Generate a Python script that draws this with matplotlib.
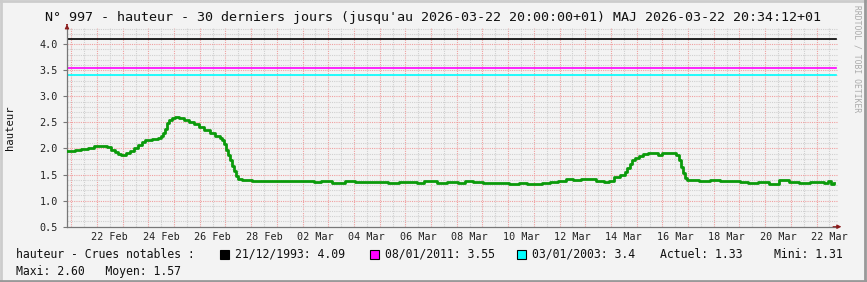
import matplotlib
matplotlib.use("Agg")
import matplotlib.pyplot as plt
from datetime import datetime, timedelta

# time window: 30 days ending 2026-03-22 20:00
start = datetime(2026, 2, 20, 20, 0)
end = datetime(2026, 3, 22, 20, 0)

# water level readings (day offset from start, value in m)
days = [0.0, 0.3, 0.55, 0.8, 1.05, 1.4, 1.55, 1.7, 1.85, 2.0,
        2.1, 2.3, 2.45, 2.6, 2.75, 2.9, 3.05, 3.3, 3.55, 3.65,
        3.72, 3.8, 3.88, 3.98, 4.08, 4.2, 4.35, 4.55, 4.75, 4.95,
        5.15, 5.35, 5.55, 5.75, 5.95, 6.02, 6.1, 6.18, 6.26, 6.34,
        6.42, 6.5, 6.58, 6.66, 6.8, 7.2, 7.8, 8.3, 8.7, 9.2,
        9.6, 9.9, 10.3, 10.8, 11.2, 11.6, 12.0, 12.5, 12.9, 13.3,
        13.6, 13.9, 14.4, 14.8, 15.2, 15.5, 15.8, 16.2, 16.7, 17.2,
        17.6, 17.9, 18.2, 18.5, 18.8, 19.1, 19.25, 19.4, 19.7, 20.0,
        20.3, 20.6, 20.9, 21.1, 21.3, 21.5, 21.7, 21.8, 21.9, 22.0,
        22.1, 22.25, 22.4, 22.6, 22.85, 23.0, 23.15, 23.4, 23.6, 23.7,
        23.8, 23.88, 23.96, 24.04, 24.12, 24.25, 24.6, 25.0, 25.4, 25.8,
        26.2, 26.5, 26.9, 27.3, 27.7, 28.1, 28.5, 28.9, 29.2, 29.45,
        29.6, 29.72, 29.85]
values = [1.96, 1.97, 1.99, 2.01, 2.04, 2.05, 2.03, 1.98, 1.93, 1.89,
          1.88, 1.92, 1.96, 2.00, 2.06, 2.12, 2.16, 2.18, 2.20, 2.23,
          2.30, 2.38, 2.48, 2.55, 2.58, 2.60, 2.58, 2.55, 2.51, 2.46,
          2.41, 2.35, 2.29, 2.24, 2.20, 2.17, 2.08, 1.98, 1.87, 1.77,
          1.66, 1.56, 1.48, 1.42, 1.39, 1.38, 1.38, 1.37, 1.38, 1.37,
          1.36, 1.37, 1.34, 1.37, 1.36, 1.35, 1.36, 1.34, 1.35, 1.36,
          1.33, 1.37, 1.34, 1.36, 1.33, 1.38, 1.36, 1.34, 1.33, 1.32,
          1.33, 1.32, 1.31, 1.33, 1.36, 1.38, 1.37, 1.41, 1.40, 1.42,
          1.41, 1.37, 1.35, 1.37, 1.45, 1.49, 1.55, 1.62, 1.70, 1.78,
          1.82, 1.86, 1.90, 1.91, 1.91, 1.88, 1.92, 1.92, 1.92, 1.88,
          1.78, 1.65, 1.53, 1.43, 1.40, 1.39, 1.38, 1.39, 1.38, 1.37,
          1.36, 1.33, 1.35, 1.32, 1.39, 1.35, 1.34, 1.35, 1.36, 1.34,
          1.38, 1.32, 1.33]

# notable floods
flood_labels = ["21/12/1993: 4.09", "08/01/2011: 3.55", "03/01/2003: 3.4"]
flood_levels = [4.09, 3.55, 3.4]
flood_colors = ["#000000", "#ff00ff", "#00ffff"]

tick_days = [datetime(2026, 2, 22, 12) + timedelta(days=2 * i) for i in range(15)]
tick_labels = [d.strftime("%d %b") for d in tick_days]
y_ticks = [0.5, 1.0, 1.5, 2.0, 2.5, 3.0, 3.5, 4.0]

mono = "DejaVu Sans Mono"
bg = "#f3f3f3"

fig = plt.figure(figsize=(8.67, 2.82), dpi=100, facecolor=bg)
ax = fig.add_axes([67 / 867, 1 - 226.7 / 282, 771 / 867, 199.2 / 282])
ax.set_facecolor(bg)

t = [start + timedelta(days=d) for d in days]
ax.set_xlim(start, end)
ax.set_ylim(0.5, 4.32)

# grid: minor gray every 12h / 0.1, major pink every 24h / 0.5
for i in range(61):
    tt = start + timedelta(hours=4 + 12 * i)
    if tt >= end:
        break
    major = tt.hour == 0
    ax.axvline(tt, color="#f0a0a0" if major else "#d0d0d0", lw=0.8,
               ls=(0, (1, 1)), zorder=1)
for k in range(6, 44):
    major = k % 5 == 0
    ax.axhline(k / 10, color="#f0a0a0" if major else "#d0d0d0", lw=0.8,
               ls=(0, (1, 1)), zorder=1)

for lev, col in zip(flood_levels, flood_colors):
    ax.axhline(lev, xmax=0.997, color=col, lw=1.2, zorder=2)

ax.plot(t, values, drawstyle="steps-post", color="#0a9a0a", lw=2.0, zorder=3)

ax.set_yticks(y_ticks)
ax.set_yticklabels(["%.1f" % v for v in y_ticks])
ax.set_xticks(tick_days)
ax.set_xticklabels(tick_labels)
ax.tick_params(axis="both", labelsize=7.3, colors="#777777", labelcolor="#222222",
               length=3, width=0.8)
ax.tick_params(axis="x", length=0, pad=4)
for lab in ax.get_xticklabels() + ax.get_yticklabels():
    lab.set_family(mono)

for s in ["top", "right"]:
    ax.spines[s].set_visible(False)
for s in ["left", "bottom"]:
    ax.spines[s].set_color("#777777")
    ax.spines[s].set_linewidth(0.9)

# arrows at axis ends
ax.annotate("", xy=(1.008, 0), xytext=(0.99, 0), xycoords="axes fraction",
            arrowprops=dict(arrowstyle="-|>", color="#8b1a1a", lw=0.8,
                            mutation_scale=6), annotation_clip=False)
ax.annotate("", xy=(0, 1.03), xytext=(0, 1.0), xycoords="axes fraction",
            arrowprops=dict(arrowstyle="-|>", color="#8b1a1a", lw=0.8,
                            mutation_scale=6), annotation_clip=False)

fig.text(433 / 867, 1 - 18 / 282,
         "N° 997 - hauteur - 30 derniers jours (jusqu'au 2026-03-22 20:00:00+01) "
         "MAJ 2026-03-22 20:34:12+01",
         family=mono, fontsize=9.6, ha="center", va="center", color="#111111")
fig.text(10 / 867, 1 - 128 / 282, "hauteur", rotation=90, family=mono,
         fontsize=7.6, ha="center", va="center", color="#111111")
fig.text(857 / 867, 1 - 5 / 282, "RRDTOOL / TOBI OETIKER", rotation=270,
         family=mono, fontsize=5.8, ha="center", va="top", color="#aaaaaa")

# legend rows
ly1 = 1 - 254 / 282
ly2 = 1 - 272 / 282
fs = 8.3
fig.text(16 / 867, ly1, "hauteur - Crues notables :", family=mono, fontsize=fs,
         va="center", color="#111111")
sq_x = [220, 370, 517]
txt_x = [235, 385, 532]
for lab, col, sx, tx in zip(flood_labels, flood_colors, sq_x, txt_x):
    fig.patches.append(plt.Rectangle((sx / 867, 1 - 259 / 282), 9 / 867, 9 / 282,
                                     transform=fig.transFigure, facecolor=col,
                                     edgecolor="#000000", lw=0.8))
    fig.text(tx / 867, ly1, lab, family=mono, fontsize=fs, va="center",
             color="#111111")
fig.text(660 / 867, ly1, "Actuel: 1.33", family=mono, fontsize=fs, va="center",
         color="#111111")
fig.text(774 / 867, ly1, "Mini: 1.31", family=mono, fontsize=fs, va="center",
         color="#111111")
fig.text(16 / 867, ly2, "Maxi: 2.60   Moyen: 1.57", family=mono, fontsize=fs,
         va="center", color="#111111")

# frame: light top/left, dark bottom/right
fig.add_artist(plt.Line2D([0, 1], [0.996, 0.996], transform=fig.transFigure,
                          color="#cccccc", lw=2))
fig.add_artist(plt.Line2D([0.001, 0.001], [0, 1], transform=fig.transFigure,
                          color="#cccccc", lw=2))
fig.add_artist(plt.Line2D([0, 1], [0.004, 0.004], transform=fig.transFigure,
                          color="#999999", lw=2))
fig.add_artist(plt.Line2D([0.998, 0.998], [0, 1], transform=fig.transFigure,
                          color="#999999", lw=2))

fig.savefig("out.png", dpi=100, facecolor=bg)
